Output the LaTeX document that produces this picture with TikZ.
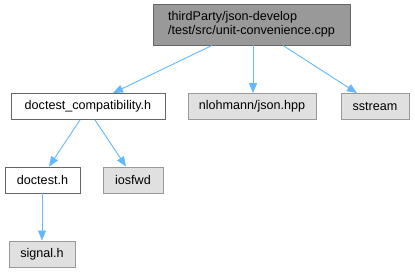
\documentclass[tikz,border=0pt]{standalone}
\usepackage{fontspec}
\setmainfont{Liberation Sans}
\usetikzlibrary{arrows.meta}
\definecolor{edgeblue}{HTML}{63B8FF}
\definecolor{rootfill}{HTML}{999999}
\definecolor{rootdraw}{HTML}{666666}
\definecolor{extfill}{HTML}{E0E0E0}
\definecolor{extdraw}{HTML}{999999}
\begin{document}
\begin{tikzpicture}[x=1pt,y=1pt,
  every node/.style={font=\fontsize{12.6}{14}\selectfont, inner sep=0pt, line width=0.9pt},
  rootbox/.style={draw=rootdraw, fill=rootfill, minimum width=197pt, minimum height=41pt, align=left},
  filebox/.style={draw=rootdraw, fill=white, minimum height=26pt},
  extbox/.style={draw=extdraw, fill=extfill, minimum height=26pt},
  dep/.style={draw=edgeblue, line width=0.9pt, -{Triangle[length=10pt,width=8pt]}}]
\useasboundingbox (0,0) rectangle (415,272);
% include graph nodes
\node[rootbox] (root) at (251.5,247.5) {thirdParty/json-develop\\/test/src/unit-convenience.cpp};
\node[filebox, minimum width=154pt] (compat) at (88,165.5) {doctest\_compatibility.h};
\node[extbox, minimum width=128pt] (json) at (252,165.5) {nlohmann/json.hpp};
\node[extbox, minimum width=68pt] (sstream) at (375,165.5) {sstream};
\node[filebox, minimum width=75pt] (doctest) at (42.5,92) {doctest.h};
\node[extbox, minimum width=60pt] (iosfwd) at (133,92) {iosfwd};
\node[extbox, minimum width=66pt] (signal) at (42,18) {signal.h};
% include edges
\draw[dep] ([xshift=-39.5pt]root.south) -- ([xshift=25pt]compat.north);
\draw[dep] ([xshift=1.5pt]root.south) -- ([xshift=1pt]json.north);
\draw[dep] ([xshift=31.5pt]root.south) -- ([xshift=-18pt]sstream.north);
\draw[dep] ([xshift=-8pt]compat.south) -- ([xshift=6.5pt]doctest.north);
\draw[dep] ([xshift=7pt]compat.south) -- ([xshift=-7pt]iosfwd.north);
\draw[dep] ([xshift=-0.5pt]doctest.south) -- (signal.north);
\end{tikzpicture}
\end{document}
